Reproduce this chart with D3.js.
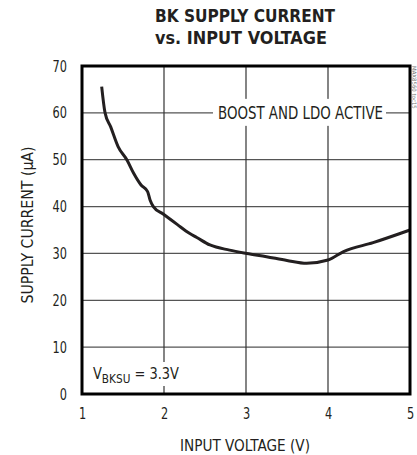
<!DOCTYPE html>
<html><head><meta charset="utf-8">
<script src="https://cdn.jsdelivr.net/npm/d3@7/dist/d3.min.js"></script>
<style>
body{margin:0;background:#fff;}
text{font-family:"Liberation Sans Narrow","DejaVu Sans Condensed","Arial Narrow",sans-serif;fill:#231f20;}
</style></head>
<body><svg id="c" width="417" height="455"></svg>
<script>
const voltage = [1.24,1.28,1.35,1.44,1.55,1.63,1.72,1.80,1.83,1.87,1.99,2.16,2.31,2.40,2.56,2.80,3.01,3.25,3.50,3.74,4.00,4.19,4.55,5.0];
const current = [65.6,60.1,57.0,52.8,49.9,47.1,44.6,43.2,41.4,40.0,38.4,36.2,34.3,33.4,31.8,30.7,30.0,29.3,28.5,27.9,28.6,30.4,32.3,35.0];
const xTicks = [1,2,3,4,5];
const yTicks = [0,10,20,30,40,50,60,70];
const titleLines = ["BK SUPPLY CURRENT","vs. INPUT VOLTAGE"];

const svg = d3.select("#c");
const L=82,R=410,T=66,B=394;
const x = d3.scaleLinear().domain([1,5]).range([L,R]);
const y = d3.scaleLinear().domain([0,70]).range([B,T]);

// gridlines
svg.append("g").selectAll("line").data(yTicks.slice(1,-1)).join("line")
  .attr("x1",L).attr("x2",R).attr("y1",d=>y(d)).attr("y2",d=>y(d))
  .attr("stroke","#555").attr("stroke-width",1.2);
svg.append("g").selectAll("line").data(xTicks.slice(1,-1)).join("line")
  .attr("y1",T).attr("y2",B).attr("x1",d=>x(d)).attr("x2",d=>x(d))
  .attr("stroke","#333").attr("stroke-width",1.2);

// axes tick labels
const xAxis = d3.axisBottom(x).tickValues(xTicks).tickSize(0).tickPadding(14).tickFormat(d3.format("d"));
const gx = svg.append("g").attr("transform",`translate(0,${B})`).call(xAxis);
gx.select(".domain").remove();
gx.selectAll("text").attr("font-size",16).attr("font-family",null)
  .attr("textLength",d=>7.2*String(d).length).attr("lengthAdjust","spacingAndGlyphs");
const yAxis = d3.axisLeft(y).tickValues(yTicks).tickSize(0).tickPadding(15).tickFormat(d3.format("d"));
const gy = svg.append("g").attr("transform",`translate(${L},0)`).call(yAxis);
gy.select(".domain").remove();
gy.selectAll("text").attr("font-size",16).attr("font-family",null)
  .attr("textLength",d=>7.2*String(d).length).attr("lengthAdjust","spacingAndGlyphs");

// legend label with white background
const lx0=213, lx1=386;
svg.append("rect").attr("x",lx0).attr("y",y(60)-14).attr("width",lx1-lx0).attr("height",27).attr("fill","#fff");
svg.append("text").attr("x",218).attr("y",y(60)+6).attr("font-size",17)
  .attr("textLength",165).attr("lengthAdjust","spacingAndGlyphs").text("BOOST AND LDO ACTIVE");

// VBKSU annotation
svg.append("rect").attr("x",90).attr("y",362).attr("width",92).attr("height",24).attr("fill","#fff");
const va = svg.append("text").attr("x",93).attr("y",379).attr("font-size",16)
  .attr("textLength",86).attr("lengthAdjust","spacingAndGlyphs");
va.append("tspan").text("V");
va.append("tspan").attr("font-size",13).attr("dy",4).text("BKSU");
va.append("tspan").attr("dy",-4).text(" = 3.3V");

// curve
const line = d3.line().x(d=>x(d[0])).y(d=>y(d[1])).curve(d3.curveMonotoneX);
svg.append("path").datum(voltage.map((v,i)=>[v,current[i]]))
  .attr("d",line).attr("fill","none").attr("stroke","#231f20").attr("stroke-width",3)
  .attr("stroke-linejoin","round").attr("stroke-linecap","butt");

// frame
svg.append("rect").attr("x",L).attr("y",T).attr("width",R-L).attr("height",B-T)
  .attr("fill","none").attr("stroke","#000").attr("stroke-width",3);

// title
svg.append("text").attr("x",155).attr("y",22).attr("font-size",18).attr("font-weight","bold")
  .attr("textLength",180).attr("lengthAdjust","spacingAndGlyphs").text(titleLines[0]);
svg.append("text").attr("x",155).attr("y",44).attr("font-size",18).attr("font-weight","bold")
  .attr("textLength",172).attr("lengthAdjust","spacingAndGlyphs").text(titleLines[1]);

// axis titles
svg.append("text").attr("x",245).attr("y",451).attr("text-anchor","middle").attr("font-size",15)
  .attr("textLength",130).attr("lengthAdjust","spacingAndGlyphs").text("INPUT VOLTAGE (V)");
svg.append("text").attr("transform","translate(33,225) rotate(-90)").attr("text-anchor","middle").attr("font-size",15)
  .attr("textLength",157).attr("lengthAdjust","spacingAndGlyphs").text("SUPPLY CURRENT (\u00b5A)");

// watermark
svg.append("text").attr("transform","translate(412,66) rotate(90)").attr("font-size",6).style("fill","#777").text("MAX8560 toc15");
</script></body></html>
